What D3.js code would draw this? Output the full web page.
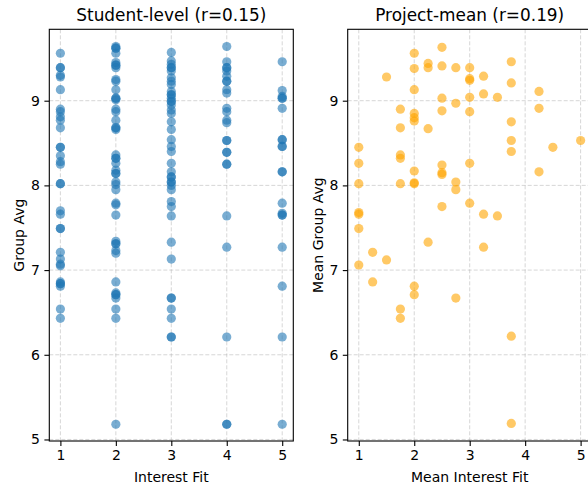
<!DOCTYPE html>
<html><head><meta charset="utf-8">
<script src="https://cdn.jsdelivr.net/npm/d3@7"></script>
<style>
body{margin:0;background:#fff;}
text{font-family:"DejaVu Sans",sans-serif;fill:#000;}
</style></head>
<body><svg id="c" width="588" height="484"></svg>
<script>
// Student-level: group average by interest fit (1..5)
const interestLevels = [1, 2, 3, 4, 5];
const groupAvgFit1 = [9.56, 9.39, 9.39, 9.30, 9.28, 9.13, 8.90, 8.87, 8.81, 8.77, 8.68, 8.45, 8.45, 8.35, 8.28, 8.25, 8.02, 8.02, 7.70, 7.66, 7.49, 7.49, 7.21, 7.13, 7.07, 7.05, 6.86, 6.84, 6.84, 6.81, 6.54, 6.43];
const groupAvgFit2 = [9.64, 9.62, 9.62, 9.56, 9.45, 9.42, 9.42, 9.39, 9.25, 9.23, 9.13, 9.03, 9.03, 9.01, 8.90, 8.87, 8.77, 8.68, 8.68, 8.66, 8.36, 8.32, 8.32, 8.26, 8.18, 8.14, 8.14, 8.04, 8.01, 7.95, 7.79, 7.77, 7.65, 7.34, 7.31, 7.31, 7.23, 7.20, 6.86, 6.73, 6.71, 6.71, 6.67, 6.54, 6.43, 5.18];
const groupAvgFit3 = [9.57, 9.47, 9.43, 9.39, 9.39, 9.35, 9.27, 9.23, 9.19, 9.11, 9.07, 9.07, 9.03, 8.99, 8.99, 8.95, 8.89, 8.85, 8.75, 8.66, 8.54, 8.46, 8.40, 8.26, 8.16, 8.10, 8.10, 8.04, 8.04, 8.00, 7.95, 7.81, 7.75, 7.64, 7.33, 7.13, 6.67, 6.67, 6.54, 6.43, 6.21, 6.21];
const groupAvgFit4 = [9.64, 9.46, 9.39, 9.39, 9.35, 9.29, 9.23, 9.23, 9.13, 9.09, 8.91, 8.87, 8.77, 8.74, 8.53, 8.53, 8.39, 8.39, 8.25, 8.25, 7.64, 7.27, 6.21, 5.18, 5.18];
const groupAvgFit5 = [9.46, 9.12, 9.05, 9.03, 9.03, 8.91, 8.54, 8.54, 8.46, 8.46, 8.16, 8.16, 7.79, 7.67, 7.65, 7.65, 7.27, 6.81, 6.21, 5.18];

// Project-mean: mean interest fit vs mean group average
const projMeanInterest = [1,1,1,1,1,1,1, 1.25,1.25, 1.5,1.5, 1.75,1.75,1.75,1.75,1.75,1.75,1.75,
  2,2,2,2,2,2,2,2,2,2,2, 2.25,2.25,2.25,2.25, 2.5,2.5,2.5,2.5,2.5,2.5,2.5,2.5,
  2.75,2.75,2.75,2.75,2.75, 3,3,3,3,3,3,3, 3.25,3.25,3.25,3.25, 3.5,3.5,
  3.75,3.75,3.75,3.75,3.75,3.75,3.75, 4.25,4.25,4.25, 4.5, 5];
const projMeanGroup = [8.45,8.26,8.02,7.68,7.66,7.49,7.06, 7.21,6.86, 9.28,7.12, 8.90,8.68,8.36,8.32,8.02,6.54,6.43,
  9.56,9.38,9.13,8.85,8.80,8.76,8.17,8.03,8.02,6.81,6.71, 9.44,9.39,8.67,7.33, 9.63,9.41,9.03,8.88,8.24,8.15,8.13,7.75,
  9.39,8.97,8.04,7.95,6.67, 9.39,9.26,9.24,9.04,8.87,8.26,7.79, 9.29,9.08,7.66,7.27, 9.04,7.64,
  9.46,9.21,8.75,8.53,8.40,6.22,5.19, 9.11,8.91,8.16, 8.45, 8.53];

const yTicks = [5, 6, 7, 8, 9];
const xTicks = [1, 2, 3, 4, 5];

const svg = d3.select("#c");
const plotTop = 29.3, plotBottom = 441;
const y = d3.scaleLinear().domain([4.982, 9.843]).range([plotBottom, plotTop]);

function panel(x0, x1, title, xlabel, ylabel, pts, color, ylabX) {
  const x = d3.scaleLinear().domain([0.8, 5.2]).range([x0, x1]);
  const g = svg.append("g");
  // grid
  g.selectAll(".gx").data(xTicks).join("line")
    .attr("x1", d => x(d)).attr("x2", d => x(d)).attr("y1", plotTop).attr("y2", plotBottom)
    .attr("stroke", "#b0b0b0").attr("stroke-opacity", 0.5).attr("stroke-width", 1).attr("stroke-dasharray", "4,2");
  g.selectAll(".gy").data(yTicks).join("line")
    .attr("y1", d => y(d)).attr("y2", d => y(d)).attr("x1", x0).attr("x2", x1)
    .attr("stroke", "#b0b0b0").attr("stroke-opacity", 0.5).attr("stroke-width", 1).attr("stroke-dasharray", "4,2");
  // points
  g.selectAll("circle").data(pts).join("circle")
    .attr("cx", d => x(d[0])).attr("cy", d => y(d[1])).attr("r", 4.6)
    .attr("fill", color).attr("fill-opacity", 0.6);
  // axes
  const ax = g.append("g").attr("transform", `translate(0,${plotBottom})`)
    .call(d3.axisBottom(x).tickValues(xTicks).tickSize(4.9).tickPadding(4.5).tickFormat(d3.format("d")));
  const ay = g.append("g").attr("transform", `translate(${x0},0)`)
    .call(d3.axisLeft(y).tickValues(yTicks).tickSize(4.9).tickPadding(4.5).tickFormat(d3.format("d")));
  [ax, ay].forEach(a => {
    a.select(".domain").remove();
    a.selectAll("line").attr("stroke", "#000").attr("stroke-width", 1.1);
    a.selectAll("text").attr("font-size", 14).attr("font-family", "DejaVu Sans").attr("fill", "#000");
  });
  g.append("rect").attr("x", x0).attr("y", plotTop).attr("width", x1 - x0).attr("height", plotBottom - plotTop)
    .attr("fill", "none").attr("stroke", "#000").attr("stroke-width", 1.1);
  g.append("text").attr("x", (x0 + x1) / 2).attr("y", 20.5).attr("text-anchor", "middle")
    .attr("font-size", 16.9).text(title);
  g.append("text").attr("x", (x0 + x1) / 2).attr("y", 481.5).attr("text-anchor", "middle")
    .attr("font-size", 14).text(xlabel);
  g.append("text").attr("transform", `translate(${ylabX},${(plotTop + plotBottom) / 2}) rotate(-90)`)
    .attr("text-anchor", "middle").attr("font-size", 14).text(ylabel);
}

const studentCols = [groupAvgFit1, groupAvgFit2, groupAvgFit3, groupAvgFit4, groupAvgFit5];
const studentPts = [];
studentCols.forEach((col, i) => col.forEach(v => studentPts.push([interestLevels[i], v])));
const projPts = projMeanInterest.map((v, i) => [v, projMeanGroup[i]]);

panel(49.3, 293.3, "Student-level (r=0.15)", "Interest Fit", "Group Avg", studentPts, "#1f77b4", 23.5);
panel(347.7, 591.7, "Project-mean (r=0.19)", "Mean Interest Fit", "Mean Group Avg", projPts, "#ffa500", 322.5);
</script></body></html>
